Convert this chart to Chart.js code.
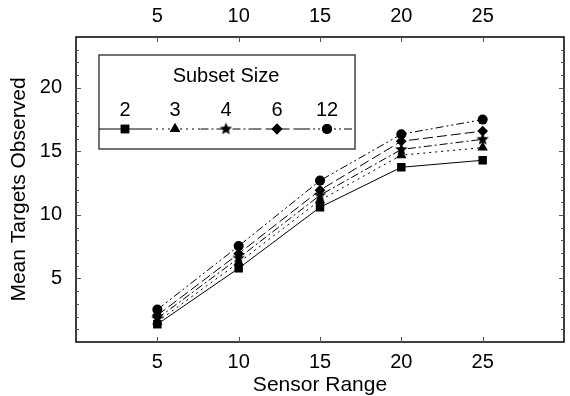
<!DOCTYPE html>
<html>
<head>
<meta charset="utf-8">
<script src="https://cdn.jsdelivr.net/npm/chart.js@4"></script>
<style>
  html, body { margin: 0; padding: 0; background: #fff; }
</style>
</head>
<body>
<canvas id="chart" width="570" height="396"></canvas>
<script>
// data
const sensorRange = [5, 10, 15, 20, 25];
const subsetSizes = ['2', '3', '4', '6', '12'];
const subset2 = [1.4, 5.8, 10.6, 13.75, 14.3];
const subset3 = [1.6, 6.25, 11.15, 14.7, 15.3];
const subset4 = [1.85, 6.6, 11.55, 15.15, 15.95];
const subset6 = [2.1, 6.95, 11.95, 15.8, 16.6];
const subset12 = [2.55, 7.55, 12.7, 16.35, 17.5];
const xTicks = [5, 10, 15, 20, 25];
const yTicks = [5, 10, 15, 20];

const FONT = 'Liberation Sans, Arial, sans-serif';

// filled five point star for the "4" series
function makeStar(r) {
  const c = document.createElement('canvas');
  const s = Math.ceil(r * 2 + 2);
  c.width = c.height = s;
  const g = c.getContext('2d');
  g.beginPath();
  for (let i = 0; i < 10; i++) {
    const a = -Math.PI / 2 + i * Math.PI / 5;
    const rr = i % 2 ? r * 0.45 : r;
    g.lineTo(s / 2 + rr * Math.cos(a), s / 2 + rr * Math.sin(a));
  }
  g.closePath();
  g.fillStyle = '#000';
  g.fill();
  return c;
}
const star = makeStar(6.5);

const seriesValues = [subset2, subset3, subset4, subset6, subset12];
const markers = [
  { style: 'rect', radius: 6 },
  { style: 'triangle', radius: 6 },
  { style: star, radius: 6 },
  { style: 'rectRot', radius: 5.4 },
  { style: 'circle', radius: 5 }
];
const dashes = [[], [2, 4], [8, 3, 2, 3], [10, 4], [8, 3, 2, 3, 2, 3]];

const datasets = subsetSizes.map((name, i) => ({
  label: name,
  data: sensorRange.map((x, j) => ({ x: x, y: seriesValues[i][j] })),
  borderColor: '#000',
  backgroundColor: '#000',
  borderWidth: 1,
  borderDash: dashes[i],
  pointStyle: markers[i].style,
  pointRadius: markers[i].radius,
  pointBorderWidth: 0,
  pointBackgroundColor: '#000',
  tension: 0
}));

// frame + inward tick marks
const framePlugin = {
  id: 'frame',
  afterDraw(chart) {
    const ctx = chart.ctx;
    const a = chart.chartArea;
    const xs = chart.scales.x, ys = chart.scales.y;
    ctx.save();
    ctx.strokeStyle = '#000';
    ctx.lineWidth = 1.5;
    ctx.strokeRect(a.left, a.top, a.right - a.left, a.bottom - a.top);
    ctx.strokeStyle = '#555';
    ctx.lineWidth = 1;
    ctx.beginPath();
    xTicks.forEach(v => {
      const px = Math.round(xs.getPixelForValue(v)) + 0.5;
      ctx.moveTo(px, a.top); ctx.lineTo(px, a.top + 5);
      ctx.moveTo(px, a.bottom); ctx.lineTo(px, a.bottom - 5);
    });
    for (let v = 1; v < 24; v++) {
      const py = Math.round(ys.getPixelForValue(v)) + 0.5;
      const len = v % 5 === 0 ? 5 : 3;
      ctx.moveTo(a.left, py); ctx.lineTo(a.left + len, py);
      ctx.moveTo(a.right, py); ctx.lineTo(a.right - len, py);
    }
    ctx.stroke();
    ctx.restore();
  }
};

// boxed legend with one running line through all the markers
const legendPlugin = {
  id: 'subsetLegend',
  afterDraw(chart) {
    const ctx = chart.ctx;
    const box = { l: 99, t: 55, r: 355, b: 149 };
    const marks = [125, 175, 226, 277, 327];
    const lineY = 129;
    ctx.save();
    ctx.fillStyle = '#fff';
    ctx.fillRect(box.l, box.t, box.r - box.l, box.b - box.t);
    ctx.strokeStyle = '#444';
    ctx.lineWidth = 1.5;
    ctx.strokeRect(box.l, box.t, box.r - box.l, box.b - box.t);
    ctx.fillStyle = '#000';
    ctx.font = '20px ' + FONT;
    ctx.textAlign = 'center';
    ctx.textBaseline = 'middle';
    ctx.fillText('Subset Size', 226, 76);
    subsetSizes.forEach((s, i) => ctx.fillText(s, marks[i], 110));
    ctx.strokeStyle = '#000';
    ctx.lineWidth = 1;
    marks.forEach((mx, i) => {
      const x0 = i === 0 ? box.l : (marks[i - 1] + mx) / 2;
      const x1 = i === marks.length - 1 ? box.r : (marks[i + 1] + mx) / 2;
      ctx.setLineDash(dashes[i]);
      ctx.beginPath();
      ctx.moveTo(x0, lineY);
      ctx.lineTo(x1, lineY);
      ctx.stroke();
    });
    ctx.setLineDash([]);
    marks.forEach((mx, i) => {
      const m = markers[i];
      if (typeof m.style !== 'string') {
        ctx.drawImage(m.style, mx - m.style.width / 2, lineY - m.style.height / 2);
      } else {
        Chart.helpers.drawPoint(ctx, { pointStyle: m.style, radius: m.radius, rotation: 0, borderWidth: 0 }, mx, lineY);
        ctx.fill();
      }
    });
    ctx.restore();
  }
};

const tickFont = { family: FONT, size: 20 };
const titleFont = { family: FONT, size: 21, lineHeight: 1 };

new Chart(document.getElementById('chart'), {
  type: 'line',
  data: { datasets: datasets },
  options: {
    responsive: false,
    animation: false,
    devicePixelRatio: 1,
    layout: { padding: { right: 1 } },
    plugins: { legend: { display: false }, tooltip: { enabled: false } },
    scales: {
      x: {
        type: 'linear', position: 'bottom', min: 0, max: 30,
        afterBuildTicks: s => { s.ticks = xTicks.map(v => ({ value: v })); },
        afterFit: s => { s.height = 54; },
        grid: { display: false, drawTicks: false },
        border: { display: false },
        ticks: { font: tickFont, color: '#000', padding: 8, maxRotation: 0 },
        title: { display: true, text: 'Sensor Range', font: titleFont, color: '#000', padding: 0 }
      },
      xTop: {
        type: 'linear', position: 'top', min: 0, max: 30,
        afterBuildTicks: s => { s.ticks = xTicks.map(v => ({ value: v })); },
        afterFit: s => { s.height = 37; },
        grid: { display: false, drawTicks: false },
        border: { display: false },
        ticks: { font: tickFont, color: '#000', padding: 9, maxRotation: 0 }
      },
      y: {
        type: 'linear', position: 'left', min: 0, max: 24,
        afterBuildTicks: s => { s.ticks = yTicks.map(v => ({ value: v })); },
        afterFit: s => { s.width = 76; },
        grid: { display: false, drawTicks: false },
        border: { display: false },
        ticks: { font: tickFont, color: '#000', padding: 14 },
        title: { display: true, text: 'Mean Targets Observed', font: titleFont, color: '#000', padding: { top: 9, bottom: 0 } }
      }
    }
  },
  plugins: [framePlugin, legendPlugin]
});
</script>
</body>
</html>
